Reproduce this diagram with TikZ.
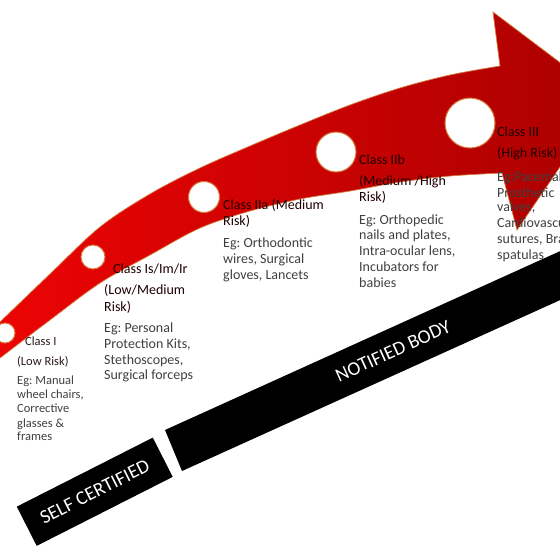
\documentclass[tikz,border=0pt]{standalone}
\usepackage{fontspec}
\setmainfont{Carlito}
\frenchspacing
\definecolor{arrowL}{RGB}{238,4,4}
\definecolor{arrowR}{RGB}{170,0,0}
\definecolor{glow}{RGB}{214,120,60}
\definecolor{ttl}{RGB}{30,0,0}
\definecolor{bodytxt}{RGB}{64,64,64}
\tikzset{
  ttlA/.style={anchor=base west, inner sep=0pt, text=ttl, font=\fontsize{14}{16}\selectfont},
  txtA/.style={anchor=base west, inner sep=0pt, text=bodytxt, font=\fontsize{14}{16}\selectfont},
  ttlB/.style={anchor=base west, inner sep=0pt, text=ttl!60!bodytxt, font=\fontsize{12.5}{14}\selectfont},
  txtB/.style={anchor=base west, inner sep=0pt, text=bodytxt, font=\fontsize{12.5}{14}\selectfont},
  hole/.style={circle, fill=white, draw=glow, line width=1pt, inner sep=0pt},
  barlabel/.style={inner sep=0pt, text=white, font=\fontsize{19.5}{21}\selectfont},
}
\begin{document}
\begin{tikzpicture}[x=1pt,y=-1pt]
\useasboundingbox (0,0) rectangle (560,560);
\clip (0,0) rectangle (560,560);
\fill[white] (0,0) rectangle (560,560);

% red arrow
\path[left color=arrowL, right color=arrowR, draw=glow, line width=0.7pt]
  plot[smooth, tension=0.55] coordinates {(-20,341) (0,322) (50,274) (100,227) (150,194) (200,168) (250,146) (300,125) (350,105) (400,88) (450,75) (500,66)}
  -- (493,12) -- (607,98) -- (517,230) -- (502,173)
  -- plot[smooth, tension=0.55] coordinates {(502,173) (450,176) (400,182) (350,191) (300,199) (250,211) (200,228) (150,255) (100,283) (50,320) (0,358) (-20,374)}
  -- cycle;

% holes
\node[hole, minimum size=20pt] (c0) at (5,333) {};
\node[hole, minimum size=24pt] (c1) at (93,257) {};
\node[hole, minimum size=31pt] (c2) at (204,197) {};
\node[hole, minimum size=40pt] (c3) at (336,152) {};
\node[hole, minimum size=50pt] (c4) at (470,123) {};

% black bars
\node[barlabel, fill=black, rotate=26.9, minimum width=152.5pt, minimum height=44pt] (self) at (94.75,491.75) {SELF CERTIFIED};
\fill[black] (165,430) -- (620,224) -- (620,273) -- (182,471) -- cycle;
\node[barlabel, rotate=24.4] (nb) at (393,351) {NOTIFIED BODY};

% Class I
\node[ttlB] (i1) at (25,345) {Class I};
\node[ttlB] (i2) at (17,365) {(Low Risk)};
\node[txtB] (i3) at (17,384) {Eg: Manual};
\node[txtB] (i4) at (17,398) {wheel chairs,};
\node[txtB] (i5) at (17,412) {Corrective};
\node[txtB] (i6) at (17,427) {glasses \&};
\node[txtB] (i7) at (17,440) {frames};

% Class Is/Im/Ir
\node[ttlA] (s1) at (113,273) {Class Is/Im/Ir};
\node[ttlA] (s2) at (104,294) {(Low/Medium};
\node[ttlA] (s3) at (104,311) {Risk)};
\node[txtA] (s4) at (104,332) {Eg: Personal};
\node[txtA] (s5) at (104,348) {Protection Kits,};
\node[txtA] (s6) at (104,364) {Stethoscopes,};
\node[txtA] (s7) at (104,379) {Surgical forceps};

% Class IIa
\node[ttlA] (a1) at (223,209) {Class IIa (Medium};
\node[ttlA] (a2) at (223,225) {Risk)};
\node[txtA] (a3) at (223,247) {Eg: Orthodontic};
\node[txtA] (a4) at (223,263) {wires, Surgical};
\node[txtA] (a5) at (223,279) {gloves, Lancets};

% Class IIb
\node[ttlA] (b1) at (359,164) {Class IIb};
\node[ttlA] (b2) at (359,185) {(Medium /High};
\node[ttlA] (b3) at (359,201) {Risk)};
\node[txtA] (b4) at (359,224) {Eg: Orthopedic};
\node[txtA] (b5) at (359,239) {nails and plates,};
\node[txtA] (b6) at (359,255) {Intra-ocular lens,};
\node[txtA] (b7) at (359,271) {Incubators for};
\node[txtA] (b8) at (359,287) {babies};

% Class III
\node[ttlA] (t1) at (497,136) {Class III};
\node[ttlA] (t2) at (497,157) {(High Risk)};
\node[txtA] (t3) at (497,181) {Eg:Pacemakers,};
\node[txtA] (t4) at (497,197) {Prosthetic};
\node[txtA] (t5) at (497,211) {valves,};
\node[txtA] (t6) at (497,227) {Cardiovascular};
\node[txtA] (t7) at (497,243) {sutures, Brain};
\node[txtA] (t8) at (497,259) {spatulas};
\end{tikzpicture}
\end{document}
